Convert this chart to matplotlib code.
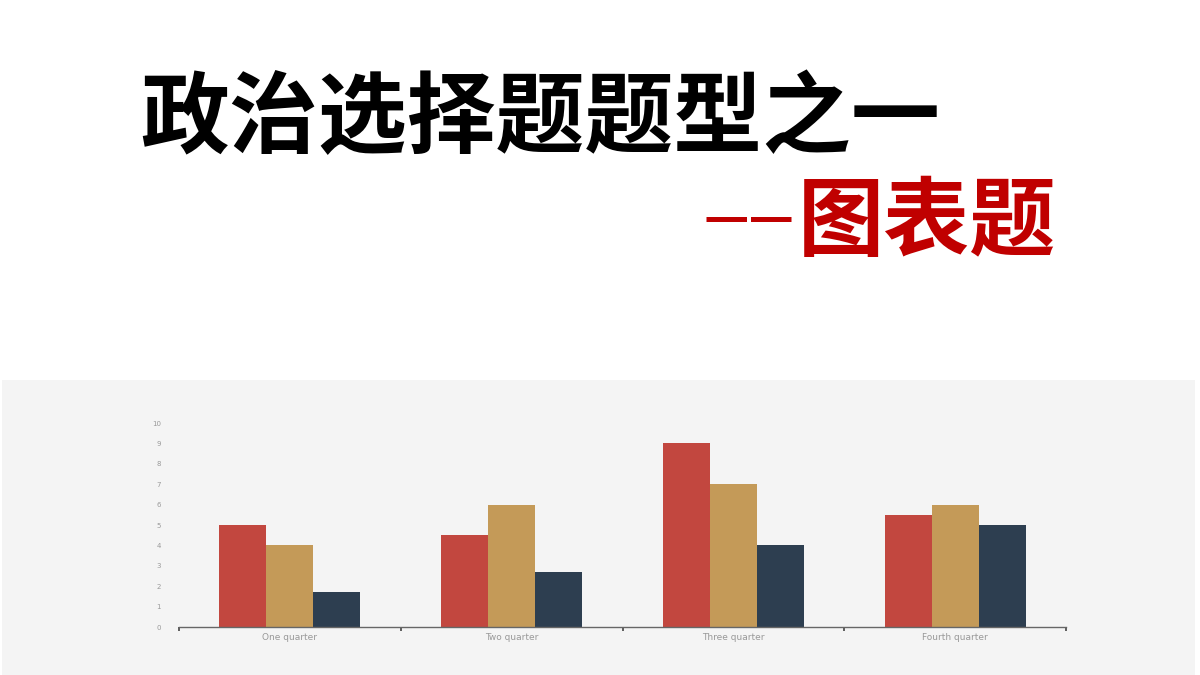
import matplotlib.pyplot as plt
import matplotlib.patches as mpatches
import numpy as np

plt.rcParams['font.family'] = ['Noto Sans CJK SC', 'DejaVu Sans']

# data
quarters = ["One quarter", "Two quarter", "Three quarter", "Fourth quarter"]
series_a = [5.0, 4.5, 9.0, 5.5]
series_b = [4.0, 6.0, 7.0, 6.0]
series_c = [1.7, 2.7, 4.0, 5.0]
y_ticks = list(range(0, 11))

title_text = "政治选择题题型之一"
sub_dash = "——"
sub_text = "图表题"

colors = ["#c2473f", "#c49a58", "#2d3e50"]

fig = plt.figure(figsize=(12, 6.75), dpi=100)
fig.patch.set_facecolor("white")

# grey panel behind the chart
panel = mpatches.Rectangle((2 / 1200, 0), 1193 / 1200, 295 / 675,
                           transform=fig.transFigure, facecolor="#f4f4f4",
                           edgecolor="none", zorder=-10)
fig.patches.append(panel)

# headings
fig.text(140 / 1200, 1 - 120 / 675, title_text, fontsize=64, fontweight="bold",
         color="black", ha="left", va="center")
fig.text(703 / 1200, 1 - 220 / 675, sub_dash, fontsize=36, fontweight="bold",
         color="#c00000", ha="left", va="center")
fig.text(798 / 1200, 1 - 224 / 675, sub_text, fontsize=62, fontweight="bold",
         color="#c00000", ha="left", va="center")

ax = fig.add_axes([179 / 1200, 1 - 627 / 675, 887 / 1200, 204 / 675])
ax.set_facecolor("none")

x = np.arange(len(quarters))
w = 0.212
for i, vals in enumerate([series_a, series_b, series_c]):
    ax.bar(x + (i - 1) * w, vals, width=w, color=colors[i], edgecolor="none")

ax.set_xlim(-0.5, len(quarters) - 0.5)
ax.set_ylim(0, 10)
ax.set_yticks(y_ticks)
ax.set_yticklabels([str(t) for t in y_ticks], fontsize=5, color="#999999",
                   family="DejaVu Sans")
ax.tick_params(axis="y", length=0, pad=13)

ax.set_xticks(x)
ax.set_xticklabels(quarters, fontsize=6.5, color="#999999", family="DejaVu Sans")
ax.tick_params(axis="x", which="major", length=0, pad=4)
ax.set_xticks(np.arange(-0.5, len(quarters)), minor=True)
ax.tick_params(axis="x", which="minor", length=3, width=1.2, color="#444444",
               direction="out")

for side in ["top", "right", "left"]:
    ax.spines[side].set_visible(False)
ax.spines["bottom"].set_color("#666666")
ax.spines["bottom"].set_linewidth(1)

fig.savefig("out.png", dpi=100)
